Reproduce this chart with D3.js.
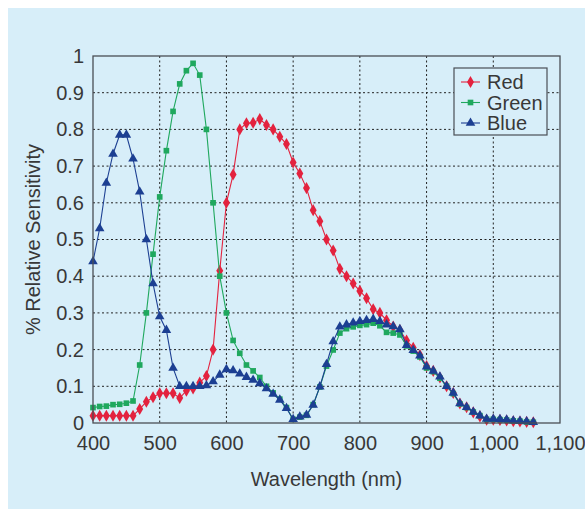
<!DOCTYPE html>
<html>
<head>
<meta charset="utf-8">
<script src="https://cdn.jsdelivr.net/npm/d3@7"></script>
<style>
  body { margin: 0; background: #ffffff; }
  text { font-family: "Liberation Sans", Arial, sans-serif; fill: #383838; }
</style>
</head>
<body>
<div id="chart"></div>
<script>
const wavelengths = [400, 410, 420, 430, 440, 450, 460, 470, 480, 490,
  500, 510, 520, 530, 540, 550, 560, 570, 580, 590,
  600, 610, 620, 630, 640, 650, 660, 670, 680, 690,
  700, 710, 720, 730, 740, 750, 760, 770, 780, 790,
  800, 810, 820, 830, 840, 850, 860, 870, 880, 890,
  900, 910, 920, 930, 940, 950, 960, 970, 980, 990,
  1000, 1010, 1020, 1030, 1040, 1050, 1060];

const red = [0.02, 0.02, 0.02, 0.02, 0.02, 0.02, 0.02, 0.038, 0.058, 0.07,
  0.081, 0.081, 0.081, 0.068, 0.088, 0.094, 0.11, 0.128, 0.20, 0.415,
  0.60, 0.677, 0.80, 0.817, 0.818, 0.828, 0.812, 0.80, 0.78, 0.76,
  0.71, 0.68, 0.64, 0.58, 0.55, 0.50, 0.47, 0.42, 0.40, 0.38,
  0.36, 0.34, 0.31, 0.30, 0.28, 0.263, 0.253, 0.225, 0.205, 0.185,
  0.155, 0.142, 0.124, 0.10, 0.082, 0.053, 0.043, 0.029, 0.018, 0.009,
  0.009, 0.008, 0.007, 0.005, 0.004, 0.003, 0.002];

const green = [0.042, 0.045, 0.046, 0.05, 0.051, 0.054, 0.06, 0.158, 0.30, 0.46,
  0.616, 0.742, 0.849, 0.924, 0.96, 0.98, 0.948, 0.80, 0.60, 0.40,
  0.30, 0.225, 0.19, 0.158, 0.142, 0.124, 0.10, 0.082, 0.065, 0.042,
  0.01, 0.016, 0.021, 0.05, 0.098, 0.155, 0.199, 0.245, 0.257, 0.262,
  0.266, 0.268, 0.272, 0.265, 0.247, 0.245, 0.24, 0.21, 0.196, 0.18,
  0.15, 0.14, 0.122, 0.10, 0.08, 0.052, 0.042, 0.03, 0.02, 0.01,
  0.01, 0.009, 0.008, 0.006, 0.005, 0.003, 0.002];

const blue = [0.44, 0.53, 0.654, 0.733, 0.785, 0.785, 0.72, 0.63, 0.50, 0.38,
  0.29, 0.253, 0.15, 0.10, 0.10, 0.10, 0.10, 0.102, 0.113, 0.131,
  0.146, 0.143, 0.134, 0.125, 0.117, 0.108, 0.094, 0.079, 0.063, 0.04,
  0.01, 0.017, 0.022, 0.049, 0.099, 0.16, 0.222, 0.262, 0.268, 0.273,
  0.277, 0.28, 0.283, 0.277, 0.268, 0.263, 0.255, 0.212, 0.198, 0.183,
  0.153, 0.142, 0.126, 0.10, 0.082, 0.053, 0.043, 0.03, 0.02, 0.011,
  0.011, 0.01, 0.009, 0.006, 0.005, 0.004, 0.002];

const xTicks = [400, 500, 600, 700, 800, 900, 1000, 1100];
const yTicks = [0, 0.1, 0.2, 0.3, 0.4, 0.5, 0.6, 0.7, 0.8, 0.9, 1];

const seriesNames = ["Red", "Green", "Blue"];
const seriesColors = ["#e3223e", "#1fa85e", "#1c3f92"];
const seriesShapes = [d3.symbolDiamond, d3.symbolSquare, d3.symbolTriangle];
const seriesSizes = [42, 32, 40];
const seriesValues = [red, green, blue];

const W = 585, H = 509;
const margin = {top: 56, right: 25, bottom: 86, left: 93};
const width = W - margin.left - margin.right;
const height = H - margin.top - margin.bottom;

const svg = d3.select("#chart").append("svg")
  .attr("width", W)
  .attr("height", H);

svg.append("rect")
  .attr("x", 8).attr("y", 8)
  .attr("width", W - 8).attr("height", H - 8)
  .attr("fill", "#d7eef9");

const g = svg.append("g")
  .attr("transform", "translate(" + margin.left + "," + margin.top + ")");

const x = d3.scaleLinear().domain([400, 1100]).range([0, width]);
const y = d3.scaleLinear().domain([0, 1]).range([height, 0]);

// grid
g.append("g")
  .selectAll("line")
  .data(xTicks.slice(1, -1))
  .join("line")
  .attr("x1", d => x(d)).attr("x2", d => x(d))
  .attr("y1", 0).attr("y2", height)
  .attr("stroke", "#222")
  .attr("stroke-width", 1)
  .attr("stroke-dasharray", "2,2.5");

g.append("g")
  .selectAll("line")
  .data(yTicks.slice(1, -1))
  .join("line")
  .attr("x1", 0).attr("x2", width)
  .attr("y1", d => y(d)).attr("y2", d => y(d))
  .attr("stroke", "#222")
  .attr("stroke-width", 1)
  .attr("stroke-dasharray", "2,2.5");

// axes
const xAxis = g.append("g")
  .attr("transform", "translate(0," + height + ")")
  .call(d3.axisBottom(x).tickValues(xTicks).tickSize(0).tickPadding(13).tickFormat(d3.format(",")));
const yAxis = g.append("g")
  .call(d3.axisLeft(y).tickValues(yTicks).tickSize(0).tickPadding(9).tickFormat(d => d));

[xAxis, yAxis].forEach(a => {
  a.select(".domain").remove();
  a.selectAll("text").style("font-size", "20px").attr("fill", "#383838");
});

// series
seriesValues.forEach((vals, i) => {
  const pts = wavelengths.map((w, j) => ({w: w, v: vals[j]}));
  g.append("path")
    .datum(pts)
    .attr("fill", "none")
    .attr("stroke", seriesColors[i])
    .attr("stroke-width", 1.1)
    .attr("d", d3.line().x(d => x(d.w)).y(d => y(d.v)));
  g.append("g")
    .selectAll("path")
    .data(pts)
    .join("path")
    .attr("transform", d => "translate(" + x(d.w) + "," + y(d.v) + ")")
    .attr("d", d3.symbol().type(seriesShapes[i]).size(seriesSizes[i]))
    .attr("fill", seriesColors[i]);
});

// frame
g.append("rect")
  .attr("width", width).attr("height", height)
  .attr("fill", "none")
  .attr("stroke", "#4a4f55")
  .attr("stroke-width", 1.3);

// axis titles
svg.append("text")
  .attr("x", margin.left + width / 2)
  .attr("y", 486)
  .attr("text-anchor", "middle")
  .style("font-size", "20px")
  .text("Wavelength (nm)");

svg.append("text")
  .attr("transform", "translate(40," + (margin.top + height / 2) + ") rotate(-90)")
  .attr("text-anchor", "middle")
  .style("font-size", "20px")
  .text("% Relative Sensitivity");

// legend
const legend = svg.append("g").attr("transform", "translate(454,68)");
legend.append("rect")
  .attr("width", 93).attr("height", 67)
  .attr("fill", "#d7eef9")
  .attr("stroke", "#4a4f55")
  .attr("stroke-width", 1.2);
seriesNames.forEach((name, i) => {
  const row = legend.append("g").attr("transform", "translate(0," + (14 + i * 20.5) + ")");
  row.append("line")
    .attr("x1", 7).attr("x2", 26)
    .attr("stroke", seriesColors[i]).attr("stroke-width", 1.1);
  row.append("path")
    .attr("transform", "translate(16.5,0)")
    .attr("d", d3.symbol().type(seriesShapes[i]).size(seriesSizes[i]))
    .attr("fill", seriesColors[i]);
  row.append("text")
    .attr("x", 33).attr("y", 7)
    .style("font-size", "20px")
    .text(name);
});
</script>
</body>
</html>
